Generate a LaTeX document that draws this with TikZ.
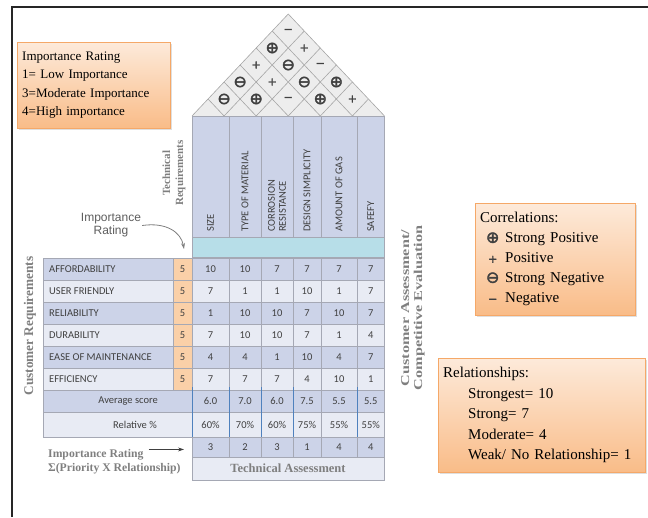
\documentclass[tikz,border=0pt]{standalone}
\usepackage{fontspec}
\usepackage{graphicx}
\setmainfont{Liberation Serif}
\setsansfont{Liberation Sans}
\newfontfamily\calibri{Carlito}
\newfontfamily\symfont[FakeBold=2.5]{DejaVu Sans}
\usetikzlibrary{arrows.meta,shadows}

\definecolor{hdrblue}{HTML}{CCD3E8}
\definecolor{rowdark}{HTML}{CCD3E8}
\definecolor{rowlight}{HTML}{E8EBF4}
\definecolor{impcyan}{HTML}{B7DEE8}
\definecolor{imporange}{HTML}{FAD0A8}
\definecolor{gridgray}{HTML}{A5A8B4}
\definecolor{roofgray}{HTML}{EDEDED}
\definecolor{roofline}{HTML}{A6A6A6}
\definecolor{linkblue}{HTML}{4F81BD}
\definecolor{txtgray}{HTML}{404040}
\definecolor{labgray}{HTML}{7F7F7F}
\definecolor{boxtop}{HTML}{FDEADA}
\definecolor{boxbot}{HTML}{F9BC88}
\definecolor{boxedge}{HTML}{F5A868}

\newcommand{\strongpos}{{\fontsize{16}{16}\selectfont ⊕}}
\newcommand{\weakpos}{{\fontsize{11}{11}\selectfont +}}
\newcommand{\strongneg}{{\fontsize{16}{16}\selectfont ⊖}}
\newcommand{\weakneg}{{\fontsize{11}{11}\selectfont −}}
\newcommand{\corrmark}[1]{\makebox[25pt]{\symfont\color{txtgray}#1}}
\def\colb{{192,229,261,293,321,357,384.5}}

\begin{document}
\begin{tikzpicture}[x=1pt,y=-1pt]
	 \tikzstyle{cellline}=[draw=gridgray,line width=0.6pt]
	 \tikzstyle{roof}=[draw=roofline,line width=0.6pt]
	 \tikzstyle{cell}=[font={\calibri\fontsize{10.5}{11}\selectfont},text=txtgray,inner sep=0pt]
	 \tikzstyle{colhead}=[cell,rotate=90,anchor=west,align=left]
	 \tikzstyle{corrsym}=[font=\symfont,text=txtgray,inner sep=0pt]
	 \tikzstyle{note}=[draw=boxedge,top color=boxtop,bottom color=boxbot,drop shadow={opacity=0.25,shadow xshift=1.5pt,shadow yshift=-1.5pt},anchor=north west,align=left,inner xsep=5pt,inner ysep=0pt]
	 \tikzstyle{sidelabel}=[font=\bfseries,text=labgray,inner sep=0pt,align=center]
	 \tikzstyle{pointer}=[draw=txtgray,line width=0.8pt,-{Stealth[length=6pt,width=4pt]}]

	 \useasboundingbox (0,0) rectangle (648,517);
	 \draw[line width=2pt,black!85] (12,517) -- (12,7) -- (648,7);

	 % legends
	 \node[note,minimum width=153pt,minimum height=86pt,text width=143pt,font={\fontsize{13}{18.5}\selectfont}] (ratingkey) at (17,42)
	   {Importance Rating\\1= Low Importance\\3=Moderate Importance\\4=High importance};
	 \node[note,minimum width=160pt,minimum height=112pt,text width=150pt,font={\fontsize{15}{20}\selectfont}] (corrkey) at (475,203)
	   {Correlations:\\\corrmark{\strongpos}Strong Positive\\\corrmark{\weakpos}Positive\\\corrmark{\strongneg}Strong Negative\\\corrmark{\weakneg}Negative};
	 \node[note,minimum width=207pt,minimum height=114pt,text width=197pt,font={\fontsize{15}{20.5}\selectfont}] (relkey) at (438,358)
	   {Relationships:\\\hspace*{25pt}Strongest= 10\\\hspace*{25pt}Strong= 7\\\hspace*{25pt}Moderate= 4\\\hspace*{25pt}Weak/ No Relationship= 1};

	 % roof
	 \fill[roofgray] (192,116) -- (288.25,14) -- (384.5,116) -- cycle;
	 \foreach \k in {1,...,5} {
	   \draw[roof] (192+32.08*\k,116) -- ({192+16.04*(6+\k)},{116-17*(6-\k)});
	   \draw[roof] (192+32.08*\k,116) -- (192+16.04*\k,116-17*\k);
	 }
	 \draw[roof] (192,116) -- (288.25,14) -- (384.5,116);
	 \foreach \ca/\cb/\sym in {0/1/\strongneg,1/2/\strongpos,2/3/\weakneg,3/4/\strongpos,4/5/\weakpos,
	   0/2/\strongneg,1/3/\weakpos,2/4/\strongneg,3/5/\strongpos,
	   0/3/\weakpos,1/4/\strongneg,2/5/\weakneg,
	   0/4/\strongpos,1/5/\weakpos,
	   0/5/\weakneg}
	   \node[corrsym] (roof\ca\cb) at ({192+16.04*(\ca+\cb+1)},{116-17*(\cb-\ca)}) {\sym};

	 % technical requirements
	 \foreach \xa/\xb in {192/229,229/261,261/293,293/321,321/357,357/384.5}
	   \draw[cellline,fill=hdrblue] (\xa,116) rectangle (\xb,237);
	 \node[colhead] (tr1) at (210.5,232) {SIZE};
	 \node[colhead] (tr2) at (245,232) {TYPE OF MATERIAL};
	 \node[colhead] (tr3) at (277,232) {CORROSION\\RESISTANCE};
	 \node[colhead] (tr4) at (307,232) {DESIGN SIMPLICITY};
	 \node[colhead] (tr5) at (339,232) {AMOUNT OF GAS};
	 \node[colhead] (tr6) at (370.7,232) {SAFEFY};
	 \draw[cellline,fill=impcyan] (192,237) rectangle (384.5,257);

	 % customer requirements and relationships
	 \foreach \rw/\lab/\shade/\vals in {
	   1/AFFORDABILITY/rowdark/{10,10,7,7,7,7},
	   2/USER FRIENDLY/rowlight/{7,1,1,10,1,7},
	   3/RELIABILITY/rowdark/{1,10,10,7,10,7},
	   4/DURABILITY/rowlight/{7,10,10,7,1,4},
	   5/EASE OF MAINTENANCE/rowdark/{4,4,1,10,4,7},
	   6/EFFICIENCY/rowlight/{7,7,7,4,10,1}} {
	   \pgfmathsetmacro\yt{236+22*\rw}
	   \draw[cellline,fill=\shade] (43,\yt) rectangle (173,\yt+22);
	   \draw[cellline,fill=imporange] (173,\yt) rectangle (192,\yt+22);
	   \node[cell,anchor=west] (need\rw) at (49,\yt+11) {\lab};
	   \node[cell] (imp\rw) at (182.5,\yt+11) {5};
	   \foreach \val [count=\kk] in \vals {
	     \pgfmathsetmacro\xa{\colb[\kk-1]}
	     \pgfmathsetmacro\xb{\colb[\kk]}
	     \draw[cellline,fill=\shade] (\xa,\yt) rectangle (\xb,\yt+22);
	     \node[cell] (rel\rw\kk) at ({(\xa+\xb)/2},\yt+11) {\val};
	   }
	 }

	 % scores
	 \draw[cellline,fill=rowdark] (43,390) rectangle (384.5,412);
	 \draw[cellline,fill=rowlight] (43,412) rectangle (384.5,437);
	 \draw[cellline] (321,390) -- (321,437);
	 \foreach \xx in {192,229,261,293,357}
	   \draw[linkblue,line width=0.8pt] (\xx,387) -- (\xx,437);
	 \node[cell,anchor=east] (avg) at (158,401) {Average score};
	 \node[cell,anchor=east] (pct) at (157,424.5) {Relative \%};
	 \foreach \val/\pc [count=\kk] in {6.0/60\%,7.0/70\%,6.0/60\%,7.5/75\%,5.5/55\%,5.5/55\%} {
	   \pgfmathsetmacro\xa{\colb[\kk-1]}
	   \pgfmathsetmacro\xb{\colb[\kk]}
	   \node[cell] (avg\kk) at ({(\xa+\xb)/2},401) {\val};
	   \node[cell] (pct\kk) at ({(\xa+\xb)/2},424.5) {\pc};
	 }
	 \foreach \val [count=\kk] in {3,2,3,1,4,4} {
	   \pgfmathsetmacro\xa{\colb[\kk-1]}
	   \pgfmathsetmacro\xb{\colb[\kk]}
	   \draw[cellline,fill=rowdark] (\xa,437) rectangle (\xb,457);
	   \node[cell] (rank\kk) at ({(\xa+\xb)/2},447) {\val};
	 }
	 \draw[cellline,fill=rowlight] (192,457) rectangle (384.5,480);
	 \node[sidelabel,font={\rmfamily\bfseries\fontsize{12.5}{14}\selectfont}] (techass) at (288,468.5) {Technical Assessment};

	 % labels
	 \node[sidelabel,rotate=90,font={\bfseries\fontsize{11}{13}\selectfont}] (techreq) at (174,173) {Technical\\Requirements};
	 \node[sidelabel,rotate=90,font={\bfseries\fontsize{13.3}{15}\selectfont}] (custreq) at (30,326) {Customer Requirements};
	 \node[sidelabel,rotate=90,font={\bfseries\fontsize{12}{13}\selectfont}] (custeval) at (413,308)
	   {\scalebox{1.35}[1]{\begin{tabular}{@{}c@{}}Customer Assessment/\\Competitive Evaluation\end{tabular}}};
	 \node[font={\sffamily\fontsize{12}{13}\selectfont},text=txtgray!85,align=center,inner sep=1pt] (impnote) at (111,225.5) {Importance\\Rating};
	 \coordinate (impcol) at (184,249);
	 \draw[pointer,draw=labgray] (impnote.east) .. controls (166,222) and (181,232) .. (impcol);
	 \node[sidelabel,anchor=west,font={\bfseries\fontsize{11.7}{14}\selectfont}] (irtitle) at (48,455) {Importance Rating};
	 \node[sidelabel,anchor=west,font={\bfseries\fontsize{11.7}{14}\selectfont}] (irformula) at (48,469) {Σ(Priority X Relationship)};
	 \coordinate (rankrow) at (184,448);
	 \draw[pointer] ([xshift=5pt]irtitle.north east) -- (irtitle.north east -| rankrow);
\end{tikzpicture}
\end{document}
